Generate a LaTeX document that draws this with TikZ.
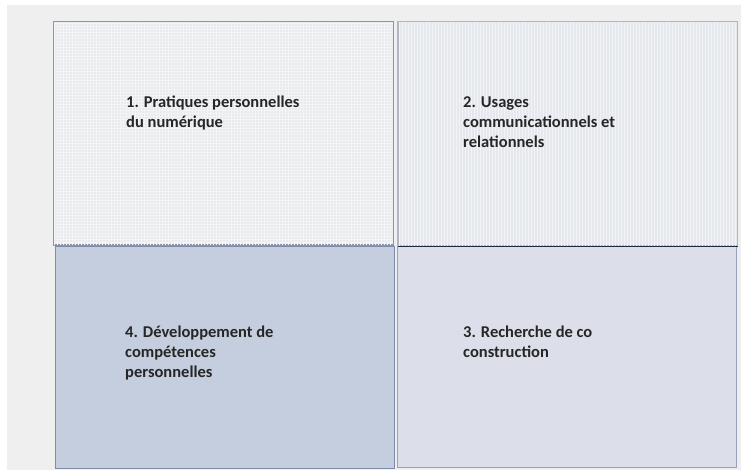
\documentclass[tikz,border=0pt]{standalone}
\usepackage{fontspec}
\setmainfont{Carlito}
\usetikzlibrary{positioning, patterns}

\definecolor{pagegray}{HTML}{EFEFEF}
\definecolor{paleA}{HTML}{E8EAEE}
\definecolor{paleB}{HTML}{E5E8ED}
\definecolor{blueA}{HTML}{C5CEDF}
\definecolor{blueB}{HTML}{DCDFE9}
\definecolor{edgeA}{HTML}{8E97A8}
\definecolor{edgeB}{HTML}{7E8BAA}
\definecolor{darknavy}{HTML}{1E2A45}

\begin{document}
\begin{tikzpicture}[x=1pt, y=1pt]
    \tikzstyle{quad}=[rectangle, minimum width=339pt, inner sep=0pt, line width=1pt];
    \tikzstyle{label}=[anchor=base west, align=left, inner sep=0pt, font=\fontsize{16.5}{20}\selectfont\bfseries, text=black!85];

    % page
    \fill[white] (0, 0) rectangle (741, -470);
    \fill[pagegray] (7, -5) rectangle (741, -470);
    \useasboundingbox (0, 0) rectangle (741, -470);

    % the four quadrants
    \node[quad, draw=edgeA, fill=paleA, minimum height=223pt] (q1) at (223.5, -133.5) {};
    \node[quad, draw=edgeA!70, fill=paleB, minimum height=224pt] (q2) at (567.5, -134) {};
    \node[quad, draw=edgeB, fill=blueA, minimum height=221pt] (q4) at (224.5, -357.5) {};
    \node[quad, draw=edgeB!80, fill=blueB, minimum height=220pt] (q3) at (566.5, -357) {};

    \fill[pattern=grid, pattern color=white!50!paleA] (q1.south west) rectangle (q1.north east);
    \fill[pattern=vertical lines, pattern color=white!50!paleB] (q2.south west) rectangle (q2.north east);
    \draw[edgeA] (q1.south west) rectangle (q1.north east);
    \draw[edgeA!70] (q2.south west) rectangle (q2.north east);

    \draw[darknavy, line width=1.5pt] (q2.south west) -- (q2.south east);

    % texts (anchored on the last line)
    \node[label] (t1) at (126, -128) {1. Pratiques personnelles\\du numérique};
    \node[label] (t2) at (463, -148) {2. Usages\\communicationnels et\\relationnels};
    \node[label] (t4) at (125, -377) {4. Développement de\\compétences\\personnelles};
    \node[label] (t3) at (463, -357) {3. Recherche de co\\construction};
\end{tikzpicture}
\end{document}
